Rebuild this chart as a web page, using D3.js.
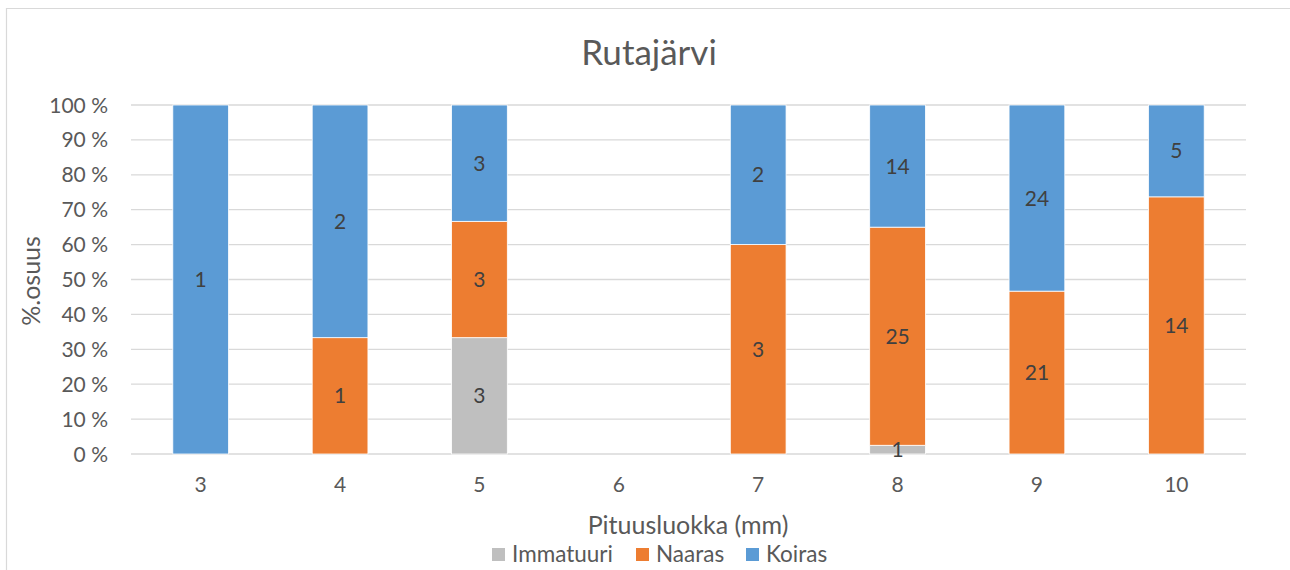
<!DOCTYPE html>
<html>
<head>
<meta charset="utf-8">
<script src="https://cdn.jsdelivr.net/npm/d3@7"></script>
<style>
  body { margin: 0; background: #fff; }
  text { font-family: Lato, "Open Sans", sans-serif; }
</style>
</head>
<body>
<svg width="1290" height="570"></svg>
<script>
// pituusluokat ja lukumäärät
const categories = ["3", "4", "5", "6", "7", "8", "9", "10"]
const immatuuri = [0, 0, 3, 0, 0, 1, 0, 0]
const naaras = [0, 1, 3, 0, 3, 25, 21, 14]
const koiras = [1, 2, 3, 0, 2, 14, 24, 5]
const seriesNames = ["Immatuuri", "Naaras", "Koiras"]
const colors = ["#BFBFBF", "#ED7D31", "#5B9BD5"]
const yTicks = [0, 10, 20, 30, 40, 50, 60, 70, 80, 90, 100]

const svg = d3.select("svg")
const margin = {left: 131, right: 44, top: 105, bottom: 116}
const width = +svg.attr("width")
const height = +svg.attr("height")

// kehys (vain ylä- ja vasen reuna näkyvissä)
svg.append("path")
    .attr("d", "M6.5,570 V8.5 H1290")
    .attr("fill", "none")
    .attr("stroke", "#D9D9D9")
    .attr("stroke-width", 1.2)

const x = d3.scaleBand()
    .domain(categories)
    .range([margin.left, width - margin.right])
    .paddingInner(0.6)
    .paddingOuter(0.3)

const y = d3.scaleLinear()
    .domain([0, 100])
    .range([height - margin.bottom, margin.top])

// ruudukko
svg.append("g")
    .selectAll("line")
    .data(yTicks)
    .join("line")
    .attr("x1", margin.left)
    .attr("x2", width - margin.right)
    .attr("y1", d => y(d))
    .attr("y2", d => y(d))
    .attr("stroke", "#D9D9D9")
    .attr("stroke-width", 1.3)

// y-akselin tekstit
svg.append("g")
    .selectAll("text")
    .data(yTicks)
    .join("text")
    .attr("x", 108)
    .attr("y", d => y(d))
    .attr("dy", "0.36em")
    .attr("text-anchor", "end")
    .attr("font-size", 21)
    .attr("fill", "#595959")
    .text(d => d + " %")

// pinotaan prosenteiksi
const rows = categories.map((c, i) => ({
    cat: c,
    Immatuuri: immatuuri[i],
    Naaras: naaras[i],
    Koiras: koiras[i]
}))
const stack = d3.stack().keys(seriesNames).offset(d3.stackOffsetExpand)
const layers = stack(rows)

const layerG = svg.append("g")
    .selectAll("g")
    .data(layers)
    .join("g")
    .attr("fill", (d, i) => colors[i])

layerG.selectAll("rect")
    .data(d => d.filter(s => !isNaN(s[1]) && s[1] - s[0] > 0))
    .join("rect")
    .attr("x", d => x(d.data.cat))
    .attr("width", x.bandwidth())
    .attr("y", d => y(d[1] * 100))
    .attr("height", d => y(d[0] * 100) - y(d[1] * 100))
    .attr("stroke", "#fff")
    .attr("stroke-width", 0.8)

// arvot palkkeihin
layers.forEach(layer => {
    svg.append("g")
        .selectAll("text")
        .data(layer.filter(s => !isNaN(s[1]) && s[1] - s[0] > 0))
        .join("text")
        .attr("x", d => x(d.data.cat) + x.bandwidth() / 2)
        .attr("y", d => y((d[0] + d[1]) / 2 * 100))
        .attr("dy", "0.36em")
        .attr("text-anchor", "middle")
        .attr("font-size", 21)
        .attr("fill", "#404040")
        .text(d => d.data[layer.key])
})

// x-akselin tekstit
svg.append("g")
    .selectAll("text")
    .data(categories)
    .join("text")
    .attr("x", d => x(d) + x.bandwidth() / 2)
    .attr("y", 492)
    .attr("text-anchor", "middle")
    .attr("font-size", 21)
    .attr("fill", "#595959")
    .text(d => d)

// otsikot
svg.append("text")
    .attr("x", 649)
    .attr("y", 65)
    .attr("text-anchor", "middle")
    .attr("font-size", 35)
    .attr("fill", "#595959")
    .text("Rutajärvi")

svg.append("text")
    .attr("x", 688)
    .attr("y", 534)
    .attr("text-anchor", "middle")
    .attr("font-size", 25)
    .attr("fill", "#595959")
    .text("Pituusluokka (mm)")

svg.append("text")
    .attr("transform", "translate(40,281) rotate(-90)")
    .attr("text-anchor", "middle")
    .attr("font-size", 25)
    .attr("fill", "#595959")
    .text("%.osuus")

// selite
const legendX = [492, 636, 746]
const legendTextX = [512, 656, 766]
const legend = svg.append("g")
    .selectAll("g")
    .data(seriesNames)
    .join("g")
legend.append("rect")
    .attr("x", (d, i) => legendX[i])
    .attr("y", 548)
    .attr("width", 13)
    .attr("height", 13)
    .attr("fill", (d, i) => colors[i])
legend.append("text")
    .attr("x", (d, i) => legendTextX[i])
    .attr("y", 562)
    .attr("font-size", 22.5)
    .attr("fill", "#595959")
    .text(d => d)
</script>
</body>
</html>
